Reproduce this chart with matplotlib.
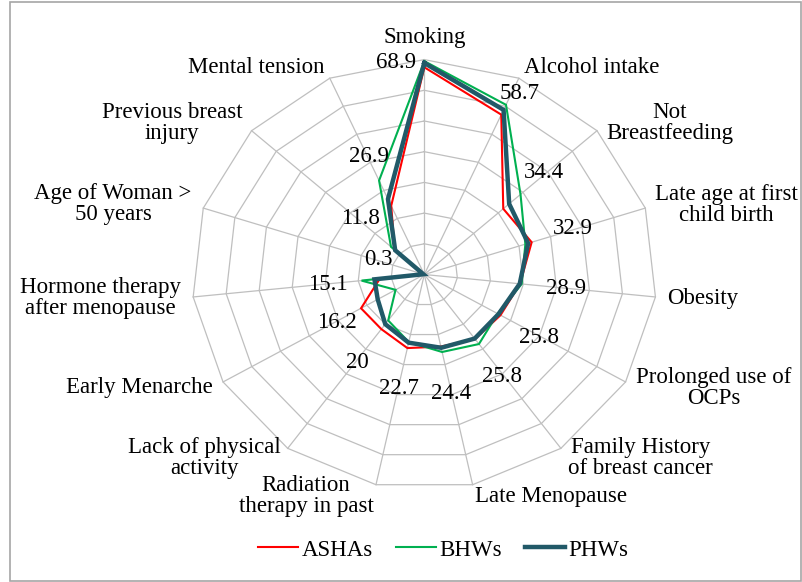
import numpy as np
import matplotlib.pyplot as plt
from matplotlib.lines import Line2D
from matplotlib.patches import Rectangle

plt.rcParams['font.family'] = ['Liberation Serif', 'DejaVu Serif']

categories = ["Smoking", "Alcohol intake", "Not\nBreastfeeding",
              "Late age at first\nchild birth", "Obesity",
              "Prolonged use of\nOCPs", "Family History\nof breast cancer",
              "Late Menopause", "Radiation\ntherapy in past",
              "Lack of physical\nactivity", "Early Menarche",
              "Hormone therapy\nafter menopause", "Age of Woman >\n50 years",
              "Previous breast\ninjury", "Mental tension"]

ashas = [67.5, 57, 32, 34, 29, 26.5, 26, 24, 24.5, 22, 22, 13.5, 0.5, 12, 24.5]
bhws = [69.5, 60.5, 39, 32, 29.5, 25.5, 28, 25.8, 22.5, 18.5, 10, 19, 0.5, 13.5, 33.5]
phws = [68.9, 58.7, 34.4, 32.9, 28.9, 25.8, 25.8, 24.4, 22.7, 20, 16.2, 15.1, 0.3, 11.8, 26.9]

series = [("ASHAs", ashas, "#ff0000", 1.5),
          ("BHWs", bhws, "#00b050", 1.5),
          ("PHWs", phws, "#215968", 3.2)]

rmax = 70
rings = np.arange(10, rmax + 1, 10)

n = len(categories)
theta = np.arange(n) * 2 * np.pi / n
sx, sy = np.sin(theta), np.cos(theta)

W, H = 803, 582
cx, cy = 424.3, 274.5      # centre in pixels (from top-left)
px_x, px_y = 3.32, 3.07    # pixels per unit (source image is slightly stretched)
fs = 16.5

fig = plt.figure(figsize=(W / 100, H / 100), dpi=100)
ax = fig.add_axes([0, 0, 1, 1])
ax.set_xlim(-cx / px_x, (W - cx) / px_x)
ax.set_ylim(-(H - cy) / px_y, cy / px_y)
ax.axis("off")

# outer frame
fig.add_artist(Rectangle((10 / W, 1 / H), 791 / W, 579 / H, transform=fig.transFigure,
                         fill=False, edgecolor="#a6a6a6", linewidth=1.2))

# grid
for r in rings:
    ax.plot(np.append(r * sx, r * sx[0]), np.append(r * sy, r * sy[0]),
            color="#bfbfbf", lw=0.9, zorder=1)
for i in range(n):
    ax.plot([0, rmax * sx[i]], [0, rmax * sy[i]], color="#bfbfbf", lw=0.9, zorder=1)

# series
for name, vals, col, lw in series:
    v = np.array(vals)
    ax.plot(np.append(v * sx, v[0] * sx[0]), np.append(v * sy, v[0] * sy[0]),
            color=col, lw=lw, zorder=3, solid_joinstyle="miter")

# data labels (PHWs)
nudge = {0: (-28, 0), 1: (16, 16)}
for i, v in enumerate(phws):
    off = nudge.get(i, (47 * sx[i], 47 * sy[i]))
    ax.annotate(f"{v:g}", (v * sx[i], v * sy[i]), xytext=off,
                textcoords="offset pixels", ha="center", va="center",
                fontsize=fs, zorder=4)

# category labels
for i, lab in enumerate(categories):
    if abs(sx[i]) < 0.15:
        ha = "center"
    else:
        ha = "left" if sx[i] > 0 else "right"
    va = "bottom" if sy[i] > 0.95 else "center"
    gap = 10 if i == 3 else 12
    ax.annotate(lab, (rmax * sx[i], rmax * sy[i]), xytext=(gap * sx[i], gap * sy[i]),
                textcoords="offset pixels", ha=ha, va=va, fontsize=fs,
                multialignment="center", linespacing=1.0)

handles = [Line2D([], [], color=c, lw=lw) for _, _, c, lw in series]
fig.legend(handles, [s[0] for s in series], loc="center",
           bbox_to_anchor=(443 / W, 1 - 550 / H), ncol=3, frameon=False,
           fontsize=fs, handlelength=1.75, handletextpad=0.15, columnspacing=1.0)

fig.savefig("out.png", dpi=100)
